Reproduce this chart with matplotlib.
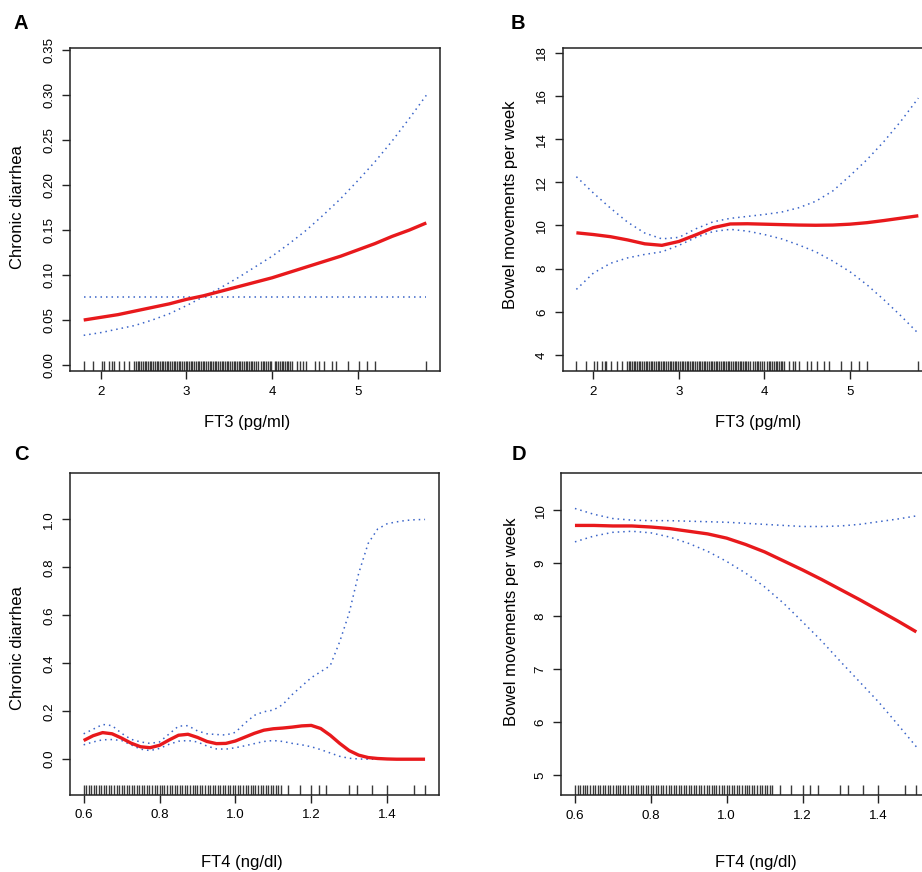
import matplotlib
matplotlib.use("Agg")
import matplotlib.pyplot as plt

plt.rcParams['font.family'] = ['Liberation Sans', 'DejaVu Sans']

# ---------------- data ----------------
# Panel A: FT3 vs chronic diarrhea
a_x = [1.8, 2.0, 2.2, 2.4, 2.6, 2.8, 3.0, 3.2, 3.4, 3.6, 3.8,
       4.0, 4.2, 4.4, 4.6, 4.8, 5.0, 5.2, 5.4, 5.6, 5.8]
a_fit = [0.050, 0.053, 0.056, 0.060, 0.064, 0.068, 0.073, 0.077, 0.082, 0.087, 0.092,
         0.097, 0.103, 0.109, 0.115, 0.121, 0.128, 0.135, 0.143, 0.150, 0.158]
a_upper = [0.033, 0.036, 0.040, 0.044, 0.050, 0.057, 0.066, 0.076, 0.086, 0.097, 0.109,
           0.121, 0.135, 0.150, 0.167, 0.185, 0.205, 0.226, 0.249, 0.274, 0.300]
a_lower = [0.076] * 21

# Panel B: FT3 vs bowel movements per week
b_x = [1.8, 2.0, 2.2, 2.4, 2.6, 2.8, 3.0, 3.2, 3.4, 3.6, 3.8,
       4.0, 4.2, 4.4, 4.6, 4.8, 5.0, 5.2, 5.4, 5.6, 5.8]
b_fit = [9.66, 9.58, 9.48, 9.33, 9.15, 9.08, 9.26, 9.57, 9.90, 10.07, 10.08,
         10.06, 10.04, 10.02, 10.01, 10.02, 10.06, 10.13, 10.23, 10.34, 10.45]
b_upper = [12.26, 11.50, 10.80, 10.15, 9.65, 9.38, 9.45, 9.85, 10.17, 10.33, 10.42,
           10.51, 10.62, 10.82, 11.12, 11.60, 12.30, 13.05, 13.90, 14.85, 15.90]
b_lower = [7.04, 7.80, 8.25, 8.50, 8.66, 8.78, 9.08, 9.45, 9.72, 9.82, 9.74,
           9.58, 9.38, 9.10, 8.78, 8.35, 7.86, 7.25, 6.55, 5.80, 5.00]

# Panel C: FT4 vs chronic diarrhea
c_x = [0.600, 0.625, 0.650, 0.675, 0.700, 0.725, 0.750, 0.775, 0.800, 0.825,
       0.850, 0.875, 0.900, 0.925, 0.950, 0.975, 1.000, 1.025, 1.050, 1.075,
       1.100, 1.125, 1.150, 1.175, 1.200, 1.225, 1.250, 1.275, 1.300, 1.325,
       1.350, 1.375, 1.400, 1.425, 1.450, 1.475, 1.500]
c_fit = [0.078, 0.098, 0.111, 0.106, 0.088, 0.067, 0.052, 0.048, 0.058, 0.080,
         0.100, 0.104, 0.091, 0.074, 0.065, 0.066, 0.076, 0.092, 0.108, 0.121,
         0.127, 0.130, 0.134, 0.139, 0.141, 0.128, 0.100, 0.066, 0.036, 0.017,
         0.007, 0.003, 0.001, 0.000, 0.000, 0.000, 0.000]
c_upper = [0.106, 0.125, 0.145, 0.140, 0.108, 0.083, 0.072, 0.066, 0.072, 0.105,
           0.138, 0.140, 0.118, 0.106, 0.103, 0.101, 0.112, 0.150, 0.183, 0.198,
           0.205, 0.228, 0.270, 0.305, 0.340, 0.365, 0.390, 0.490, 0.610, 0.775,
           0.900, 0.960, 0.982, 0.990, 0.996, 0.999, 1.000]
c_lower = [0.060, 0.072, 0.081, 0.082, 0.078, 0.060, 0.042, 0.036, 0.045, 0.062,
           0.075, 0.078, 0.072, 0.055, 0.043, 0.042, 0.048, 0.056, 0.065, 0.074,
           0.078, 0.074, 0.066, 0.060, 0.052, 0.040, 0.026, 0.012, 0.004, 0.001,
           0.000, 0.000, 0.000, 0.000, 0.000, 0.000, 0.000]

# Panel D: FT4 vs bowel movements per week
d_x = [0.60, 0.65, 0.70, 0.75, 0.80, 0.85, 0.90, 0.95, 1.00, 1.05,
       1.10, 1.15, 1.20, 1.25, 1.30, 1.35, 1.40, 1.45, 1.50]
d_fit = [9.71, 9.71, 9.70, 9.70, 9.68, 9.65, 9.60, 9.55, 9.47, 9.35,
         9.21, 9.04, 8.87, 8.69, 8.50, 8.31, 8.11, 7.91, 7.70]
d_upper = [10.03, 9.92, 9.84, 9.81, 9.80, 9.80, 9.79, 9.78, 9.77, 9.75,
           9.73, 9.71, 9.69, 9.69, 9.70, 9.73, 9.78, 9.83, 9.89]
d_lower = [9.40, 9.51, 9.58, 9.60, 9.57, 9.49, 9.37, 9.22, 9.03, 8.81,
           8.55, 8.24, 7.89, 7.53, 7.14, 6.76, 6.38, 5.96, 5.53]

# Rug (observed values)
ft3_rug = [1.80, 1.91, 2.01, 2.04, 2.10, 2.13, 2.15, 2.21, 2.27, 2.33,
           2.39, 2.41, 2.43, 2.45, 2.47, 2.49, 2.51, 2.53, 2.55, 2.57, 2.59,
           2.61, 2.63, 2.65, 2.67, 2.69, 2.71, 2.73, 2.75, 2.77, 2.79,
           2.81, 2.83, 2.85, 2.87, 2.89, 2.91, 2.93, 2.95, 2.97, 2.99,
           3.01, 3.03, 3.05, 3.07, 3.09, 3.11, 3.13, 3.15, 3.17, 3.19,
           3.21, 3.23, 3.25, 3.27, 3.29, 3.31, 3.33, 3.35, 3.37, 3.39,
           3.41, 3.43, 3.45, 3.47, 3.49, 3.51, 3.53, 3.55, 3.57, 3.59,
           3.61, 3.63, 3.65, 3.67, 3.69, 3.71, 3.73, 3.75, 3.77, 3.79,
           3.81, 3.83, 3.87, 3.89, 3.91, 3.93, 3.95, 3.97, 3.99,
           4.03, 4.05, 4.07, 4.09, 4.11, 4.13, 4.15, 4.17, 4.19, 4.21, 4.23,
           4.29, 4.33, 4.36, 4.40, 4.50, 4.55, 4.61, 4.70, 4.75, 4.89,
           5.01, 5.11, 5.20, 5.80]
ft4_rug = [0.600, 0.607, 0.613, 0.620, 0.627, 0.633, 0.640, 0.647, 0.653, 0.660,
           0.667, 0.673, 0.680, 0.687, 0.693, 0.700, 0.707, 0.713, 0.720, 0.727,
           0.733, 0.740, 0.747, 0.753, 0.760, 0.767, 0.773, 0.780, 0.787, 0.793,
           0.800, 0.807, 0.813, 0.820, 0.827, 0.833, 0.840, 0.847, 0.853, 0.860,
           0.867, 0.873, 0.880, 0.887, 0.893, 0.900, 0.907, 0.913, 0.920, 0.927,
           0.933, 0.940, 0.947, 0.953, 0.960, 0.967, 0.973, 0.980, 0.987, 0.993,
           1.000, 1.007, 1.013, 1.020, 1.027, 1.033, 1.040, 1.047, 1.053, 1.060,
           1.067, 1.073, 1.080, 1.087, 1.093, 1.100, 1.107, 1.113, 1.120,
           1.14, 1.17, 1.20, 1.22, 1.24, 1.30, 1.32, 1.36, 1.40, 1.47, 1.50]

ft3_ticks = [2, 3, 4, 5]
ft4_ticks = [0.6, 0.8, 1.0, 1.2, 1.4]
a_yticks = [0.00, 0.05, 0.10, 0.15, 0.20, 0.25, 0.30, 0.35]
b_yticks = [4, 6, 8, 10, 12, 14, 16, 18]
c_yticks = [0.0, 0.2, 0.4, 0.6, 0.8, 1.0]
d_yticks = [5, 6, 7, 8, 9, 10]

# ---------------- figure ----------------
W, H = 922, 872
fig = plt.figure(figsize=(W / 100, H / 100), dpi=100)


def px_axes(left, right, top, bottom):
    return fig.add_axes([left / W, 1 - bottom / H, (right - left) / W, (bottom - top) / H])


RED = '#e8191c'
BLUE = '#3a64c8'
RUG = '#3a3a3a'


def panel(ax, x, fit, up, lo, rug, xlim, ylim, xticks, yticks, xfmt, yfmt,
          xlabel, ylabel, xlab_px, ylab_px):
    ax.set_xlim(*xlim)
    ax.set_ylim(*ylim)
    ax.plot(x, up, linestyle=(0, (1, 2.6)), color=BLUE, lw=1.1)
    ax.plot(x, lo, linestyle=(0, (1, 2.6)), color=BLUE, lw=1.1)
    ax.plot(x, fit, color=RED, lw=2.4, solid_capstyle='butt', solid_joinstyle='round')
    ax.vlines(rug, 0, 0.03, transform=ax.get_xaxis_transform(), color=RUG, lw=1.0)
    ax.set_xticks(xticks)
    ax.set_xticklabels([xfmt.format(v) for v in xticks])
    ax.set_yticks(yticks)
    ax.set_yticklabels([yfmt.format(v) for v in yticks], rotation=90, va='center')
    ax.tick_params(direction='out', length=5.5, width=1.0, labelsize=9.6, pad=5.0, color='#222222')
    for s in ax.spines.values():
        s.set_linewidth(1.1)
        s.set_color('#222222')
    fig.text(xlab_px[0] / W, 1 - xlab_px[1] / H, xlabel, ha='center', va='center', fontsize=12)
    fig.text(ylab_px[0] / W, 1 - ylab_px[1] / H, ylabel, ha='center', va='center',
             fontsize=12, rotation=90)


axA = px_axes(70, 440, 48, 371)
axB = px_axes(562.7, 932, 48, 371)
axC = px_axes(70, 438.7, 472.7, 794.7)
axD = px_axes(561.3, 930, 473, 795)

panel(axA, a_x, a_fit, a_upper, a_lower, ft3_rug, (1.64, 5.96), (-0.0067, 0.3526),
      ft3_ticks, a_yticks, '{:d}', '{:.2f}', 'FT3 (pg/ml)', 'Chronic diarrhea',
      (247, 422), (18, 207))
panel(axB, b_x, b_fit, b_upper, b_lower, ft3_rug, (1.64, 5.96), (3.26, 18.22),
      ft3_ticks, b_yticks, '{:d}', '{:d}', 'FT3 (pg/ml)', 'Bowel movements per week',
      (758, 422), (510.5, 205))
panel(axC, c_x, c_fit, c_upper, c_lower, ft4_rug, (0.564, 1.536), (-0.148, 1.195),
      ft4_ticks, c_yticks, '{:.1f}', '{:.1f}', 'FT4 (ng/dl)', 'Chronic diarrhea',
      (242, 862), (18, 648))
panel(axD, d_x, d_fit, d_upper, d_lower, ft4_rug, (0.564, 1.536), (4.62, 10.70),
      ft4_ticks, d_yticks, '{:.1f}', '{:d}', 'FT4 (ng/dl)', 'Bowel movements per week',
      (756, 862), (511, 622))

for letter, (px, py) in {'A': (21, 23.5), 'B': (517.5, 23.5), 'C': (21.5, 454.5), 'D': (518.5, 454.5)}.items():
    fig.text(px / W, 1 - py / H, letter, ha='center', va='center', fontsize=14.5, fontweight='bold')

fig.savefig('out.png', dpi=100)
